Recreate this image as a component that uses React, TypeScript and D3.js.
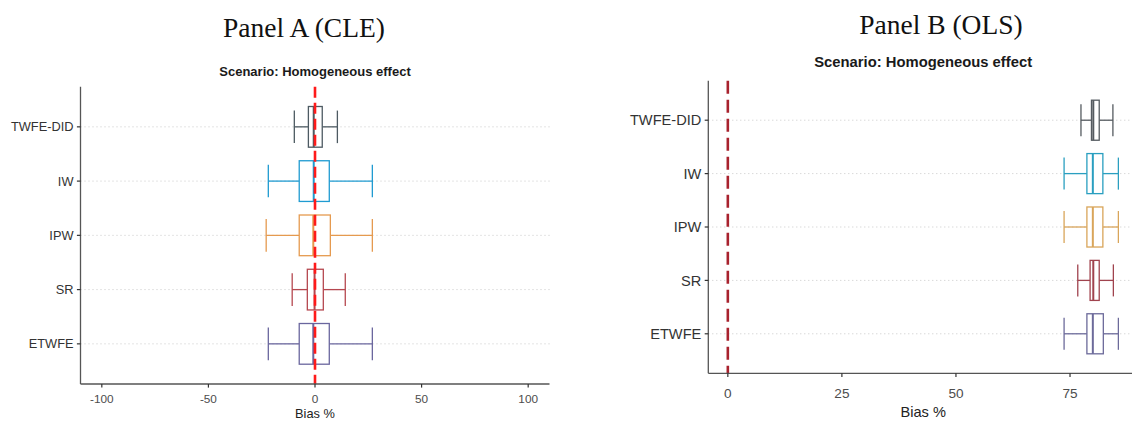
import * as d3 from "d3";

const categories = ["TWFE-DID", "IW", "IPW", "SR", "ETWFE"];
const colors = ["#4d5a62", "#1f9bd1", "#e59a4f", "#b5474f", "#6a669e"];
const colorsB = ["#555b60", "#2a9fc0", "#d9a55a", "#a0434e", "#6c6a9a"];

// Panel A (CLE)
const cleLow = [-9.7, -21.9, -22.9, -10.7, -21.9];
const cleQ1 = [-3.1, -7.4, -7.4, -3.6, -7.4];
const cleMed = [-0.6, -0.6, -0.8, -0.2, -0.8];
const cleQ3 = [3.4, 6.7, 7.2, 3.9, 6.7];
const cleHigh = [10.5, 26.9, 26.9, 14.2, 26.9];
const cleTicks = [-100, -50, 0, 50, 100];

// Panel B (OLS)
const olsLow = [77.4, 73.7, 73.7, 76.7, 73.7];
const olsQ1 = [79.7, 78.7, 78.7, 79.4, 78.7];
const olsMed = [80.1, 80.0, 80.0, 80.1, 80.0];
const olsQ3 = [81.4, 82.2, 82.2, 81.4, 82.3];
const olsHigh = [84.4, 85.6, 85.6, 84.5, 85.6];
const olsTicks = [0, 25, 50, 75];

type PanelProps = {
  header: string;
  headerX: number;
  headerY: number;
  left: number;
  right: number;
  top: number;
  bottom: number;
  domain: [number, number];
  ticks: number[];
  low: number[];
  q1: number[];
  med: number[];
  q3: number[];
  high: number[];
  cols: string[];
  refColor: string;
  refDash: string;
  titleSize: number;
  titleY: number;
  labelSize: number;
  tickSize: number;
  tickY: number;
  xTitleY: number;
  gridRight: number;
};

function Panel(p: PanelProps) {
  const x = d3.scaleLinear().domain(p.domain).range([p.left, p.right]);
  const y = d3.scalePoint<string>().domain(categories).range([p.top, p.bottom]).padding(0.74);
  const step = y.step();
  const boxH = step * 0.75;
  const capH = step * 0.6;
  const cx = (p.left + p.right) / 2;
  const font = "Liberation Sans, Arial, sans-serif";
  return (
    <g>
      <text x={p.headerX} y={p.headerY} textAnchor="middle" fontFamily="Liberation Serif, Times New Roman, serif" fontSize={27.5} fill="#111">
        {p.header}
      </text>
      <text x={cx} y={p.titleY} textAnchor="middle" fontFamily={font} fontWeight="bold" fontSize={p.titleSize} fill="#1a1a1a">
        Scenario: Homogeneous effect
      </text>
      {categories.map((c) => (
        <line key={c} x1={p.left} x2={p.gridRight} y1={y(c)} y2={y(c)} stroke="#c8c8c8" strokeWidth={1} strokeDasharray="1,3" />
      ))}
      {categories.map((c, i) => {
        const yc = y(c)!;
        const col = p.cols[i];
        return (
          <g key={c} stroke={col} strokeWidth={1.3} fill="none">
            <line x1={x(p.low[i])} x2={x(p.q1[i])} y1={yc} y2={yc} />
            <line x1={x(p.q3[i])} x2={x(p.high[i])} y1={yc} y2={yc} />
            <line x1={x(p.low[i])} x2={x(p.low[i])} y1={yc - capH / 2} y2={yc + capH / 2} />
            <line x1={x(p.high[i])} x2={x(p.high[i])} y1={yc - capH / 2} y2={yc + capH / 2} />
            <rect x={x(p.q1[i])} y={yc - boxH / 2} width={x(p.q3[i]) - x(p.q1[i])} height={boxH} fill="#fff" />
            <line x1={x(p.med[i])} x2={x(p.med[i])} y1={yc - boxH / 2} y2={yc + boxH / 2} strokeWidth={2} />
          </g>
        );
      })}
      <line x1={x(0)} x2={x(0)} y1={p.top} y2={p.bottom} stroke={p.refColor} strokeWidth={2.6} strokeDasharray={p.refDash} />
      <line x1={p.left} x2={p.left} y1={p.top} y2={p.bottom} stroke="#555" strokeWidth={1.3} />
      <line x1={p.left} x2={p.right} y1={p.bottom} y2={p.bottom} stroke="#555" strokeWidth={1.3} />
      {categories.map((c) => (
        <g key={c}>
          <line x1={p.left - 3.6} x2={p.left} y1={y(c)} y2={y(c)} stroke="#333" strokeWidth={1.2} />
          <text x={p.left - 7} y={y(c)} dy="0.36em" textAnchor="end" fontFamily={font} fontSize={p.labelSize} fill="#333">
            {c}
          </text>
        </g>
      ))}
      {p.ticks.map((t) => (
        <g key={t}>
          <line x1={x(t)} x2={x(t)} y1={p.bottom} y2={p.bottom + 3.6} stroke="#333" strokeWidth={1.2} />
          <text x={x(t)} y={p.tickY} textAnchor="middle" fontFamily={font} fontSize={p.tickSize} fill="#4d4d4d">
            {t}
          </text>
        </g>
      ))}
      <text x={cx} y={p.xTitleY} textAnchor="middle" fontFamily={font} fontSize={p.labelSize} fill="#222">
        Bias %
      </text>
    </g>
  );
}

export default function App() {
  return (
    <svg width={1132} height={421} style={{ position: "absolute", left: 0, top: 0, background: "#fff" }}>
      <Panel
        header="Panel A (CLE)"
        headerX={304}
        headerY={37}
        left={80.5}
        right={549.5}
        top={86.7}
        bottom={384}
        domain={[-110, 110]}
        ticks={cleTicks}
        low={cleLow}
        q1={cleQ1}
        med={cleMed}
        q3={cleQ3}
        high={cleHigh}
        cols={colors}
        refColor="#ff1a1a"
        refDash="11,5"
        titleSize={13}
        titleY={76}
        labelSize={12.8}
        tickSize={11.8}
        tickY={402.5}
        xTitleY={417.5}
        gridRight={549.5}
      />
      <Panel
        header="Panel B (OLS)"
        headerX={941}
        headerY={34}
        left={708.3}
        right={1138}
        top={80.7}
        bottom={373.3}
        domain={[-4.28, 89.9]}
        ticks={olsTicks}
        low={olsLow}
        q1={olsQ1}
        med={olsMed}
        q3={olsQ3}
        high={olsHigh}
        cols={colorsB}
        refColor="#a8222e"
        refDash="13,6"
        titleSize={14.8}
        titleY={67}
        labelSize={14.6}
        tickSize={13.6}
        tickY={398}
        xTitleY={417}
        gridRight={1132}
      />
    </svg>
  );
}
